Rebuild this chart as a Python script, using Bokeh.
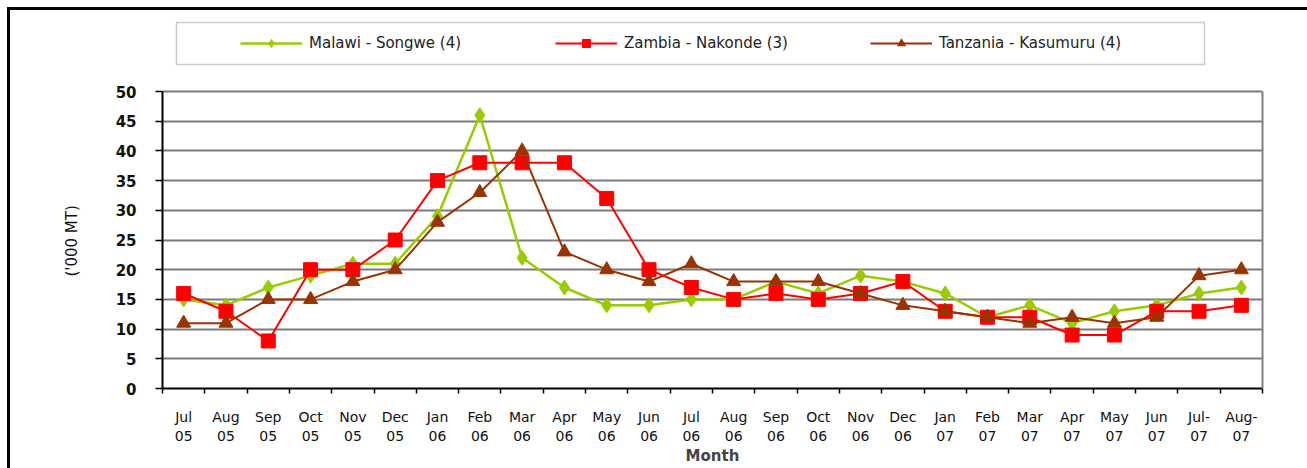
from bokeh.plotting import figure
from bokeh.models import (FixedTicker, Legend, LegendItem, BoxAnnotation, Range1d,
                          LinearAxis, Title)
from bokeh.embed import file_html
from bokeh.resources import INLINE

months = ["Jul\n05", "Aug\n05", "Sep\n05", "Oct\n05", "Nov\n05", "Dec\n05",
          "Jan\n06", "Feb\n06", "Mar\n06", "Apr\n06", "May\n06", "Jun\n06",
          "Jul\n06", "Aug\n06", "Sep\n06", "Oct\n06", "Nov\n06", "Dec\n06",
          "Jan\n07", "Feb\n07", "Mar\n07", "Apr\n07", "May\n07", "Jun\n07",
          "Jul-\n07", "Aug-\n07"]

malawi = [15, 14, 17, 19, 21, 21, 29, 46, 22, 17, 14, 14, 15, 15, 18, 16, 19, 18,
          16, 12, 14, 11, 13, 14, 16, 17]
zambia = [16, 13, 8, 20, 20, 25, 35, 38, 38, 38, 32, 20, 17, 15, 16, 15, 16, 18,
          13, 12, 12, 9, 9, 13, 13, 14]
tanzania = [11, 11, 15, 15, 18, 20, 28, 33, 40, 23, 20, 18, 21, 18, 18, 18, 16, 14,
            13, 12, 11, 12, 11, 12, 19, 20]

series_names = ["Malawi - Songwe (4)", "Zambia - Nakonde (3)", "Tanzania - Kasumuru (4)"]
y_ticks = [0, 5, 10, 15, 20, 25, 30, 35, 40, 45, 50]

xs = [i + 0.5 for i in range(len(months))]

W, H = 1307, 468
FRAME_TOP, FRAME_BOTTOM, FRAME_LEFT, FRAME_RIGHT = 10, 388, 162, 1262
# value axis: 0..50 spans 91..388; the frame is extended upward to host the legend
y_max = 50 * (FRAME_BOTTOM - FRAME_TOP) / (FRAME_BOTTOM - 91)

p = figure(width=W, height=H, output_backend="svg", toolbar_location=None,
           x_range=Range1d(0, len(months)), y_range=Range1d(0, y_max),
           min_border_left=FRAME_LEFT, min_border_right=W - FRAME_RIGHT,
           min_border_top=FRAME_TOP, min_border_bottom=H - FRAME_BOTTOM)
p.background_fill_color = "white"
p.border_fill_alpha = 0
p.outline_line_color = None
p.styles = {
    "background": ("linear-gradient(#000,#000) 7px 7px / 3px 100% no-repeat, "
                   "linear-gradient(#000,#000) 7px 7px / 100% 3px no-repeat, white"),
}

# x axis
p.xaxis.ticker = FixedTicker(ticks=xs, minor_ticks=list(range(len(months) + 1)))
p.xaxis.major_label_overrides = {x: m for x, m in zip(xs, months)}
p.xaxis.major_tick_out = 0
p.xaxis.major_tick_in = 0
p.xaxis.minor_tick_out = 5
p.xaxis.minor_tick_in = 0
p.xaxis.minor_tick_line_color = "black"
p.xaxis.minor_tick_line_width = 1.5
p.xaxis.major_label_standoff = 15
p.xaxis.major_label_text_font = "DejaVu Sans"
p.xaxis.major_label_text_font_size = "14px"
p.xaxis.major_label_text_color = "#111111"
p.xaxis.axis_line_color = "black"
p.xaxis.axis_line_width = 2
p.xaxis.axis_label = "Month"
p.xaxis.axis_label_text_font = "DejaVu Sans"
p.xaxis.axis_label_text_font_style = "bold"
p.xaxis.axis_label_text_font_size = "15px"
p.xaxis.axis_label_standoff = 0

# y axis (limited to 0..50)
p.yaxis.ticker = FixedTicker(ticks=y_ticks, minor_ticks=[])
p.yaxis.bounds = (0, 50)
p.yaxis.major_tick_out = 7
p.yaxis.major_tick_in = 0
p.yaxis.major_tick_line_width = 1.5
p.yaxis.major_label_standoff = 19
p.yaxis.major_label_text_font = "DejaVu Sans"
p.yaxis.major_label_text_font_style = "bold"
p.yaxis.major_label_text_font_size = "15px"
p.yaxis.major_label_text_color = "#111111"
p.yaxis.axis_line_color = "black"
p.yaxis.axis_line_width = 2

# y-axis title, centred on the 0..50 part of the axis
ytitle = Title(text="('000 MT)", align="left", offset=112, standoff=64,
               text_font="DejaVu Sans", text_font_style="normal",
               text_font_size="15px", text_color="#111111")
p.add_layout(ytitle, "left")

# right border of the plot area
right_axis = LinearAxis(bounds=(0, 50), ticker=FixedTicker(ticks=[]),
                        axis_line_color="#808080", axis_line_width=2,
                        major_tick_line_color=None, minor_tick_line_color=None,
                        major_label_text_font_size="0px")
p.add_layout(right_axis, "right")

p.xgrid.visible = False
p.ygrid.ticker = FixedTicker(ticks=y_ticks)
p.ygrid.grid_line_color = "#7a7a7a"
p.ygrid.grid_line_width = 2

# series
green, red, brown = "#99CC00", "#FF0000", "#993300"
l1 = p.line(xs, malawi, line_color=green, line_width=2.5)
m1 = p.scatter(xs, malawi, marker="diamond", size=15, fill_color=green, line_color=green)
l2 = p.line(xs, zambia, line_color=red, line_width=2)
m2 = p.scatter(xs, zambia, marker="square", size=14, fill_color=red, line_color=red)
l3 = p.line(xs, tanzania, line_color=brown, line_width=2)
m3 = p.scatter(xs, tanzania, marker="triangle", size=14, fill_color=brown, line_color=brown)

# legend box
p.add_layout(BoxAnnotation(left=176, right=1204, top=22, bottom=64,
                           left_units="canvas", right_units="canvas",
                           top_units="canvas", bottom_units="canvas",
                           fill_alpha=0, line_color="#555555", line_width=1.5))

legend = Legend(items=[LegendItem(label=series_names[0], renderers=[l1, m1]),
                       LegendItem(label=series_names[1], renderers=[l2, m2]),
                       LegendItem(label=series_names[2], renderers=[l3, m3])],
                orientation="horizontal", location=(78, FRAME_BOTTOM - 53),
                padding=0, margin=0,
                glyph_width=62, glyph_height=20, label_standoff=7, label_width=236,
                spacing=10, border_line_alpha=0, background_fill_alpha=0,
                label_text_font="DejaVu Sans", label_text_font_size="15px",
                label_text_color="#222222")
p.add_layout(legend, "center")

open("out.html", "w").write(file_html(p, INLINE))
